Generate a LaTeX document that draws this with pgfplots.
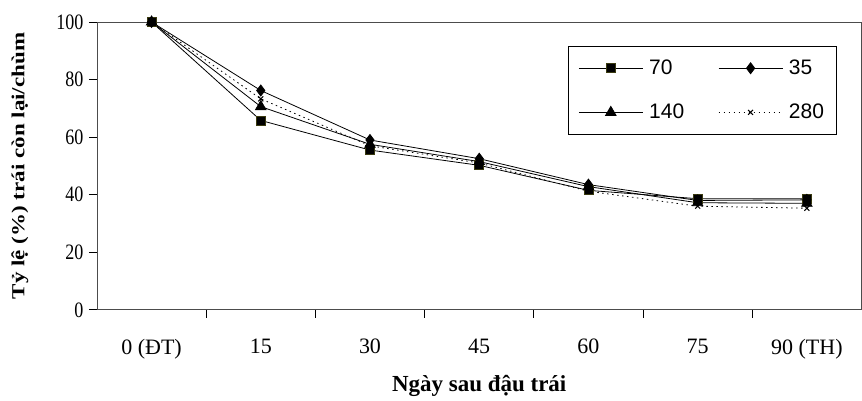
\documentclass[border=0pt]{standalone}
\usepackage{pgfplots}
\pgfplotsset{compat=1.18}
\usepackage{fontspec}
\setmainfont{Liberation Serif}
\newfontfamily\legendfont{Liberation Sans}
\newfontfamily\ytickfont[FakeStretch=0.82]{Liberation Serif}
\definecolor{olivedark}{HTML}{3A3A10}
\begin{document}
\begin{tikzpicture}
\useasboundingbox (-97pt,-91pt) rectangle (765.5pt,310pt);
\begin{axis}[
  scale only axis,
  width=765pt, height=288pt,
  xmin=-0.5, xmax=6.5,
  ymin=0, ymax=100,
  xtick={0,1,2,3,4,5,6},
  xticklabels={0 (ĐT),15,30,45,60,75,90 (TH)},
  minor xtick={0.5,1.5,2.5,3.5,4.5,5.5},
  ytick={0,20,40,60,80,100},
  xtick pos=bottom, ytick pos=left,
  tick align=outside,
  major tick length=8pt, minor tick length=8pt,
  x tick style={draw=none},
  minor x tick style={draw=black, line width=0.7pt},
  y tick style={draw=black, line width=0.7pt},
  axis line style={draw=black!70, line width=0.8pt},
  /pgf/number format/assume math mode=true,
  yticklabel style={font=\ytickfont\fontsize{22}{24}\selectfont, xshift=-2pt},
  xticklabel style={font=\fontsize{22}{24}\selectfont, yshift=-18pt},
  xlabel={Ngày sau đậu trái},
  ylabel={\scalebox{1}[0.8]{Tỷ lệ (\%) trái còn lại/chùm}},
  every axis x label/.style={at={(rel axis cs:0.5,0)}, anchor=center, yshift=-76pt, font=\fontsize{23}{26}\selectfont\bfseries},
  every axis y label/.style={at={(rel axis cs:0,0.5)}, xshift=-77pt, rotate=90, anchor=center, font=\fontsize{23}{26}\selectfont\bfseries},
  legend columns=2,
  legend style={at={(0.967,0.917)}, anchor=north east, draw=black, line width=0.6pt,
    font=\legendfont\fontsize{21}{23}\selectfont,
    inner xsep=10pt, inner ysep=12pt, row sep=24pt,
    /tikz/every odd column/.append style={column sep=4pt},
    /tikz/every even column/.append style={column sep=32pt}},
  legend cell align=left,
  legend image code/.code={\draw[mark repeat=2,mark phase=2] plot coordinates {(0pt,0pt)(32pt,0pt)(64pt,0pt)};},
  clip=false,
]
\addplot[black, line width=0.8pt, mark=square*, mark size=4.5pt, mark options={fill=black, draw=olivedark, solid}]
  coordinates {(0,100)(1,65.8)(2,55.5)(3,50.2)(4,41.5)(5,38.6)(6,38.6)};
\addlegendentry{70}
\addplot[black, line width=0.8pt, mark=diamond*, mark size=5.5pt, mark options={fill=black, solid}]
  coordinates {(0,100)(1,76.2)(2,59.0)(3,52.5)(4,43.5)(5,38.0)(6,38.2)};
\addlegendentry{35}
\addplot[black, line width=0.8pt, mark=triangle*, mark size=6pt, mark options={fill=black, solid}]
  coordinates {(0,100)(1,70.6)(2,57.5)(3,51.5)(4,42.8)(5,37.2)(6,37.0)};
\addlegendentry{140}
\addplot[black, line width=0.8pt, dash pattern=on 1.5pt off 3.5pt, mark=x, mark size=3.5pt, mark options={solid, line width=1pt}]
  coordinates {(0,100)(1,73.3)(2,57.0)(3,51.0)(4,41.2)(5,36.0)(6,35.3)};
\addlegendentry{280}
\end{axis}
\end{tikzpicture}
\end{document}
